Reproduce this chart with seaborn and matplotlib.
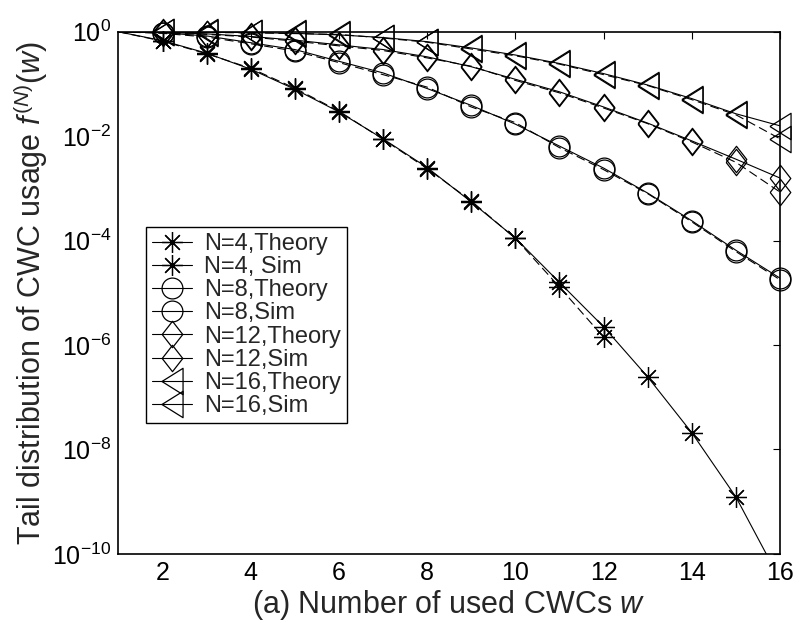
import numpy as np
import pandas as pd
import matplotlib
matplotlib.use("Agg")
import matplotlib.pyplot as plt
from matplotlib.lines import Line2D
import seaborn as sns

sns.set_style("white")
plt.rcParams['font.family'] = ['Liberation Sans', 'DejaVu Sans']
plt.rcParams['mathtext.fontset'] = 'custom'
plt.rcParams['mathtext.rm'] = 'Liberation Sans'
plt.rcParams['mathtext.it'] = 'Liberation Sans:italic'
plt.rcParams['mathtext.default'] = 'it'

# ---------------- data ----------------
w = [1, 2, 3, 4, 5, 6, 7, 8, 9, 10, 11, 12, 13, 14, 15, 16]
w_sim4 = [1, 2, 3, 4, 5, 6, 7, 8, 9, 10, 11, 12]

n4_theory = [1, 0.676, 0.389, 0.192, 0.0794, 0.0292, 0.00891, 0.00251, 0.000550,
             1.12e-4, 1.58e-5, 2.24e-6, 2.45e-7, 2.09e-8, 1.23e-9, 3.2e-11]
n4_sim = [1, 0.661, 0.380, 0.200, 0.0832, 0.0302, 0.00871, 0.00240, 0.000575,
          1.10e-4, 1.29e-5, 1.41e-6]

n8_theory = [1, 0.955, 0.832, 0.617, 0.457, 0.272, 0.163, 0.0818, 0.0389, 0.0170,
             0.00646, 0.00245, 0.000813, 0.000240, 6.53e-5, 1.91e-5]
n8_sim = [1, 0.933, 0.794, 0.589, 0.427, 0.257, 0.151, 0.0871, 0.0363, 0.0182,
          0.00603, 0.00229, 0.000794, 0.000229, 6.17e-5, 1.78e-5]

n12_theory = [1, 0.977, 0.912, 0.813, 0.692, 0.562, 0.457, 0.331, 0.214, 0.123,
              0.0708, 0.0363, 0.0178, 0.00813, 0.00363, 0.00158]
n12_sim = [1, 0.955, 0.891, 0.794, 0.661, 0.537, 0.437, 0.316, 0.219, 0.117,
           0.0676, 0.0347, 0.0174, 0.00776, 0.00316, 0.000851]

n16_theory = [1, 0.989, 0.977, 0.966, 0.933, 0.871, 0.776, 0.646, 0.490, 0.359,
              0.247, 0.158, 0.0955, 0.0525, 0.0269, 0.0158]
n16_sim = [1, 0.977, 0.966, 0.955, 0.923, 0.891, 0.759, 0.631, 0.468, 0.347,
           0.240, 0.151, 0.0933, 0.0501, 0.0257, 0.00891]

labels = ["N=4,Theory", "N=4, Sim", "N=8,Theory", "N=8,Sim",
          "N=12,Theory", "N=12,Sim", "N=16,Theory", "N=16,Sim"]

x_ticks = [2, 4, 6, 8, 10, 12, 14, 16]
y_ticks = [1e0, 1e-2, 1e-4, 1e-6, 1e-8, 1e-10]
y_ticklabels = [r'$\mathregular{10^{0}}$', r'$\mathregular{10^{-2}}$', r'$\mathregular{10^{-4}}$',
                r'$\mathregular{10^{-6}}$', r'$\mathregular{10^{-8}}$', r'$\mathregular{10^{-10}}$']

# ---------------- markers ----------------
star = (8, 2, 0)
diamond = [(-0.78, 0), (0, 1), (0.78, 0), (0, -1), (-0.78, 0)]
tri_left = [(-0.8, 0), (0.8, 1), (0.8, -1), (-0.8, 0)]
dash = (0, (8, 4))

series = [
    (w, n4_theory, star, '-', 15),
    (w_sim4, n4_sim, star, dash, 15),
    (w, n8_theory, 'o', '-', 15),
    (w, n8_sim, 'o', dash, 15),
    (w, n12_theory, diamond, '-', 19),
    (w, n12_sim, diamond, dash, 19),
    (w, n16_theory, tri_left, '-', 19),
    (w, n16_sim, tri_left, dash, 19),
]

fig = plt.figure(figsize=(8, 6.23), dpi=100)
ax = fig.add_axes([0.148, 0.111, 0.827, 0.838])
ax.set_yscale('log')

FS_TICK = 18
FS_LAB = 22
FS_LEG = 17
handles = []
for (xs, ys, mk, ls, ms), lab in zip(series, labels):
    df = pd.DataFrame({'w': xs, 'f': ys})
    sns.lineplot(data=df, x='w', y='f', ax=ax, color='black', linewidth=0.8,
                 linestyle=ls, estimator=None, sort=False)
    mdf = df[(df['w'] >= 2) & (df['f'] >= 1e-10)]
    sns.lineplot(data=mdf, x='w', y='f', ax=ax, color='black', linestyle='none',
                 marker=mk, markersize=ms, markerfacecolor='none',
                 markeredgecolor='black', markeredgewidth=0.9,
                 estimator=None, sort=False, clip_on=False)
    handles.append(Line2D([0], [0], color='black', linewidth=0.8, linestyle='-',
                          marker=mk, markersize=ms, markerfacecolor='none',
                          markeredgecolor='black', markeredgewidth=0.9))

ax.set_xlim(1, 16)
ax.set_ylim(1e-10, 1)
ax.set_xticks(x_ticks)
ax.set_xticklabels([str(t) for t in x_ticks])
ax.set_yticks(y_ticks)
ax.set_yticklabels(y_ticklabels)
ax.yaxis.set_minor_locator(matplotlib.ticker.NullLocator())
ax.tick_params(axis='both', which='major', direction='in', length=5, width=0.8,
               top=True, right=True, labelsize=FS_TICK, pad=5, colors='black')
for sp in ax.spines.values():
    sp.set_visible(True)
    sp.set_color('black')
    sp.set_linewidth(1.2)

ax.set_xlabel(r'(a) Number of used CWCs $w$', fontsize=FS_LAB, labelpad=2)
ax.set_ylabel(r'Tail distribution of CWC usage $f^{(N)}(w)$', fontsize=FS_LAB, labelpad=2)

leg = ax.legend(handles, labels, loc='upper left',
                bbox_to_anchor=(146 / 800, 1 - 227 / 623), bbox_transform=fig.transFigure,
                borderaxespad=0, fontsize=FS_LEG, frameon=True, fancybox=False,
                framealpha=1, edgecolor='black', handlelength=1.7, handletextpad=0.5,
                labelspacing=0.05, borderpad=0.25, numpoints=1)
leg.get_frame().set_linewidth(1.0)

fig.savefig('out.png', dpi=100)
